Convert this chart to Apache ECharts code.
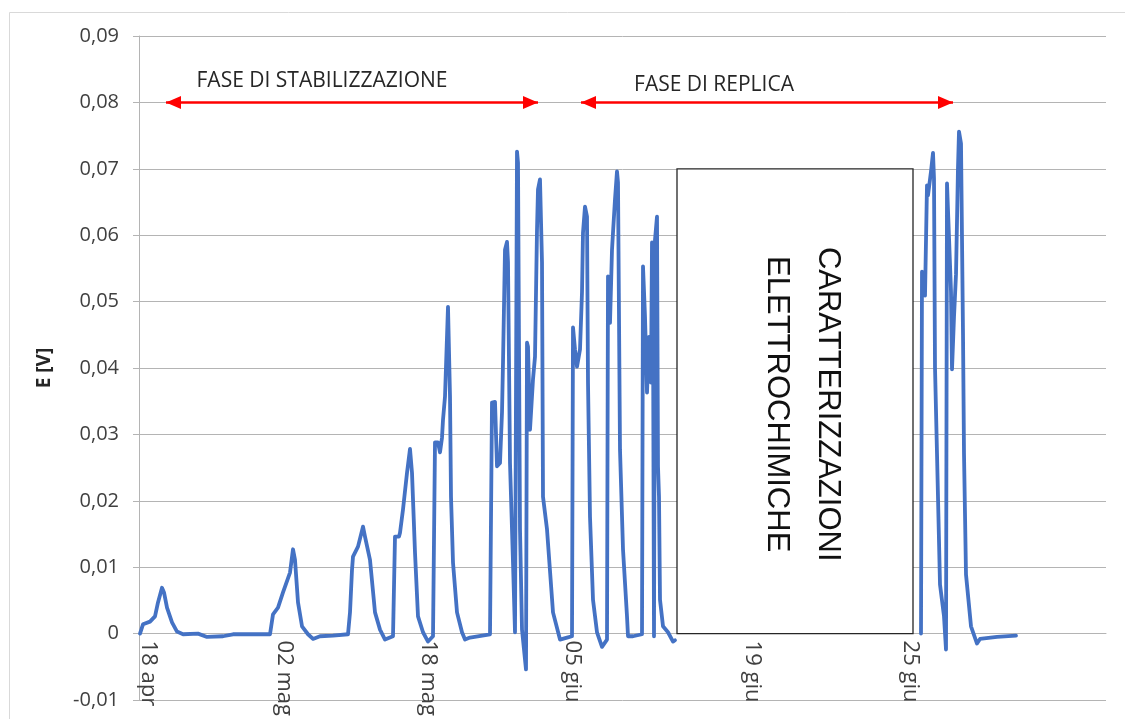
<!DOCTYPE html>
<html>
<head>
<meta charset="utf-8">
<title>E [V]</title>
<script src="https://cdn.jsdelivr.net/npm/echarts@6/dist/echarts.min.js"></script>
<style>
  html, body { margin: 0; padding: 0; background: #fff; }
  #chart { width: 1125px; height: 719px; }
</style>
</head>
<body>
<div id="chart"></div>
<script>
// Cell potential E [V] against the position of each reading in the log.
// Each pair is [reading index, E in volts].
const stabilizationRun = [
  [1, 0], [4, 0.0014], [11, 0.0018], [16, 0.0026], [19, 0.0047], [23, 0.0069], [25, 0.0062],
  [28, 0.0039], [33, 0.0017], [38, 0.0003], [44, -0.0001], [59, 0], [68, -0.0005], [84, -0.0004],
  [94, -0.0001], [131, -0.0001],
  [134, 0.0029], [139, 0.0039], [144, 0.0062], [151, 0.0092], [154, 0.0127], [156, 0.0111],
  [159, 0.0047], [163, 0.0011], [169, -0.0001], [174, -0.0008], [181, -0.0004], [194, -0.0003],
  [209, -0.0001],
  [211, 0.0032], [213, 0.0096], [214, 0.0116], [219, 0.0131], [224, 0.0161], [226, 0.0146],
  [231, 0.0111], [236, 0.0032], [241, 0.0006], [246, -0.0009], [254, -0.0004],
  [256, 0.0146], [260, 0.0146], [261, 0.0152], [264, 0.0187], [268, 0.0242], [271, 0.0278],
  [273, 0.0242], [276, 0.0122], [279, 0.0026], [284, 0.0002], [289, -0.0012], [294, -0.0004],
  [296, 0.0288], [299, 0.0288], [301, 0.0273], [303, 0.0295], [304, 0.0322], [306, 0.0357],
  [308, 0.0447], [309, 0.0492], [311, 0.0357], [312, 0.0206], [314, 0.0107], [318, 0.0032],
  [323, 0.0002], [326, -0.0009], [331, -0.0006], [351, -0.0001],
  [353, 0.0348], [356, 0.0349], [358, 0.0252], [361, 0.0257], [363, 0.0333], [364, 0.0408],
  [366, 0.0578], [368, 0.059], [369, 0.0559], [371, 0.0257], [374, 0.0107], [376, 0.0002],
  [378, 0.0726], [379, 0.0709], [381, 0.0157], [383, 0.0006], [387, -0.0054],
  [388, 0.0438], [389, 0.0432], [391, 0.0307], [393, 0.0307], [394, 0.0383], [396, 0.0417],
  [398, 0.0608], [399, 0.0669], [401, 0.0684], [403, 0.0559], [404, 0.0206], [408, 0.0157],
  [414, 0.0032], [421, -0.0009], [428, -0.0006], [433, -0.0004]
];

const replicaRunBefore = [
  [434, 0.0461], [436, 0.0428], [438, 0.0402], [441, 0.0428], [443, 0.0514], [444, 0.0604],
  [446, 0.0643], [448, 0.0628], [449, 0.0378], [451, 0.0176], [454, 0.0051], [458, 0.0002],
  [463, -0.002], [468, -0.0009],
  [469, 0.0538], [471, 0.0468], [473, 0.0578], [474, 0.0604], [476, 0.0654], [478, 0.0696],
  [479, 0.0679], [480, 0.0477], [481, 0.0277], [484, 0.0127], [488, 0.0026], [489, -0.0004],
  [494, -0.0004], [503, -0.0001],
  [504, 0.0553], [506, 0.0477], [508, 0.0363], [510, 0.0447], [512, 0.0378], [513, 0.0589],
  [514, 0.0488], [515, -0.0004], [516, 0.0593], [518, 0.0628], [519, 0.0252], [520, 0.0206],
  [521, 0.0051], [524, 0.0011], [529, 0.0002], [534, -0.0012], [536, -0.001]
];

const replicaRunAfter = [
  [782, 0], [783, 0.0545], [786, 0.0509], [788, 0.0675], [789, 0.066], [792, 0.0696],
  [794, 0.0724], [795, 0.0685], [796, 0.0401], [798, 0.0271], [801, 0.0074], [805, 0.0026],
  [807, -0.0024], [808, 0.0678], [812, 0.0515], [813, 0.0398], [815, 0.0477], [817, 0.0541],
  [819, 0.0702], [820, 0.0756], [822, 0.0738], [824, 0.0452], [825, 0.0271], [827, 0.0089],
  [832, 0.0011], [838, -0.0015], [841, -0.0008], [858, -0.0005], [877, -0.0003]
];

// Date labels on the reading axis
const dateTickIndex = [9, 145, 289, 433, 613, 771];
const dateTickLabel = ['18 apr', '02 mag', '18 mag', '05 giu', '19 giu', '25 giu'];

// Experiment phases (reading index span, drawn at E = 0.08)
const phaseNames = ['FASE DI STABILIZZAZIONE', 'FASE DI REPLICA'];
const phaseFrom = [27, 442];
const phaseTo = [399, 814];
const phaseLevel = 0.08;

// Interval spent on electrochemical characterisation (no potential logged)
const pauseText = 'CARATTERIZZAZIONI\nELETTROCHIMICHE';
const pauseFrom = 538;
const pauseTo = 774;
const pauseTop = 0.07;

const xMax = 967;
const yMin = -0.01, yMax = 0.09, yStep = 0.01;

const seriesData = stabilizationRun
  .concat(replicaRunBefore)
  .concat([[(pauseFrom + pauseTo) / 2, '-']])
  .concat(replicaRunAfter);

const fmtVolt = v => {
  if (Math.abs(v) < 1e-9) return '0';
  return v.toFixed(2).replace('.', ',');
};

const gridColor = '#b4b4b4';
const textColor = '#404040';
const uiFont = '"Open Sans", "Liberation Sans", sans-serif';

const chart = echarts.init(document.getElementById('chart'), null, { renderer: 'canvas' });

chart.setOption({
  animation: false,
  backgroundColor: '#ffffff',
  graphic: [{
    type: 'rect',
    left: 7, top: 10,
    shape: { width: 1200, height: 800 },
    style: { fill: 'none', stroke: '#d9d9d9', lineWidth: 1 },
    silent: true, z: -10
  }],
  grid: { left: 139, right: 19, top: 36, bottom: 19, containLabel: false, outerBoundsMode: 'none' },
  xAxis: {
    type: 'value',
    min: 0,
    max: xMax,
    axisLine: { show: true, onZero: false, lineStyle: { color: gridColor, width: 1 } },
    axisTick: { show: false },
    splitLine: { show: false },
    axisLabel: {
      customValues: dateTickIndex,
      formatter: v => {
        const i = dateTickIndex.indexOf(v);
        return i >= 0 ? dateTickLabel[i] : '';
      },
      rotate: -90,
      margin: 7,
      color: textColor,
      fontFamily: uiFont,
      fontSize: 22
    }
  },
  yAxis: {
    type: 'value',
    min: yMin,
    max: yMax,
    interval: yStep,
    name: 'E [V]',
    nameLocation: 'middle',
    nameGap: 85,
    nameTextStyle: { fontFamily: uiFont, fontSize: 19, fontWeight: 'bold', color: '#262626' },
    axisLine: { show: true, onZero: false, lineStyle: { color: gridColor, width: 1 } },
    axisTick: { show: true, length: 6, lineStyle: { color: gridColor } },
    splitLine: { show: true, lineStyle: { color: gridColor, width: 1 } },
    axisLabel: {
      formatter: fmtVolt,
      margin: 20,
      color: textColor,
      fontFamily: uiFont,
      fontSize: 20
    }
  },
  series: [{
    type: 'line',
    data: seriesData,
    showSymbol: false,
    symbol: 'none',
    connectNulls: false,
    lineStyle: { color: '#4472c4', width: 3.8, join: 'round', cap: 'round' },
    z: 3,
    markArea: {
      silent: true,
      itemStyle: { color: '#ffffff', borderColor: '#262626', borderWidth: 1.3 },
      label: {
        show: true,
        position: 'inside',
        rotate: -90,
        formatter: pauseText,
        fontFamily: '"Liberation Sans", Arial, sans-serif',
        fontSize: 31,
        lineHeight: 51,
        color: '#111',
        offset: [3, -7]
      },
      data: [[{ coord: [pauseFrom, pauseTop] }, { coord: [pauseTo, 0] }]]
    },
    markLine: {
      silent: true,
      symbol: ['triangle', 'triangle'],
      symbolSize: [13, 15],
      symbolOffset: [[0, 7.5], [0, 7.5]],
      lineStyle: { color: '#ff0000', width: 2.5, type: 'solid' },
      label: {
        show: true,
        position: 'middle',
        formatter: p => p.name,
        fontFamily: uiFont,
        fontSize: 21,
        color: '#262626'
      },
      emphasis: { disabled: true },
      data: phaseNames.map((n, i) => [
        { name: n, coord: [phaseFrom[i], phaseLevel], label: { offset: [i === 0 ? -30 : -53, i === 0 ? -6 : -2] } },
        { coord: [phaseTo[i], phaseLevel] }
      ])
    }
  }]
});

// Hang the date axis from the E = 0 line rather than the bottom of the plot
const zeroPx = chart.convertToPixel({ yAxisIndex: 0 }, 0);
const bottomPx = chart.convertToPixel({ yAxisIndex: 0 }, yMin);
chart.setOption({ xAxis: { offset: -(bottomPx - zeroPx) } });
</script>
</body>
</html>
